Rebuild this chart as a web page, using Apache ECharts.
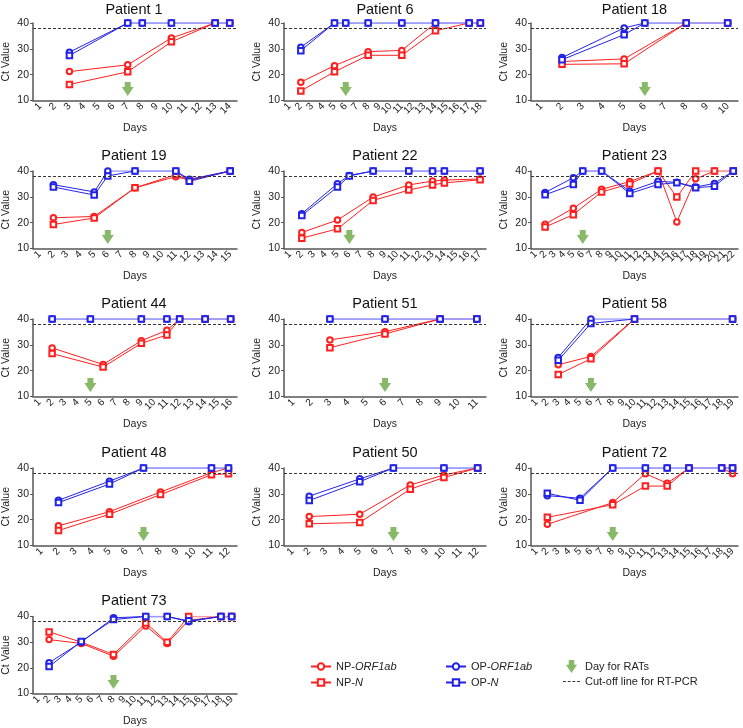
<!DOCTYPE html>
<html><head><meta charset="utf-8">
<script src="https://cdn.jsdelivr.net/npm/echarts@6/dist/echarts.min.js"></script>
<style>html,body{margin:0;padding:0;background:#fff}#c{width:743px;height:728px}</style>
</head><body><div id="c"></div>
<script>
const titles = ['Patient 1','Patient 6','Patient 18','Patient 19','Patient 22','Patient 23','Patient 44','Patient 51','Patient 58','Patient 48','Patient 50','Patient 72','Patient 73'];
const dayCounts = [14, 18, 10, 15, 17, 22, 16, 11, 19, 12, 12, 19, 19];
const ratDays = [7, 6, 6, 6, 6, 6, 5, 6, 6, 7, 7, 8, 8];
const cutoff = 38;

const npOrf1ab = [
  [[3,21.2],[7,23.8],[10,34.2],[13,40],[14,40]],
  [[2,17.1],[5,23.5],[8,28.9],[11,29.4],[14,40],[17,40],[18,40]],
  [[2,25.1],[5,26.1],[8,40],[10,40]],
  [[2,21.9],[5,22.4],[8,33.5],[11,37.8],[12,36.5],[15,40]],
  [[2,16.2],[5,21.0],[8,29.9],[11,34.6],[13,36.1],[14,36.5],[17,36.9]],
  [[2,19.4],[5,25.6],[8,32.9],[11,35.9],[14,40],[16,20.3],[18,37.0],[20,40],[22,40]],
  [[2,28.8],[6,22.4],[9,31.6],[11,35.6],[12,40],[14,40],[16,40]],
  [[3,31.9],[6,35.1],[9,40],[11,40]],
  [[3,22.3],[6,25.5],[10,40],[19,40]],
  [[2,17.6],[5,23.1],[8,30.7],[11,38.2],[12,40]],
  [[2,21.2],[5,22.1],[8,33.4],[10,37.3],[12,40]],
  [[2,18.2],[8,26.6],[11,37.8],[13,34.1],[15,40],[18,40],[19,37.8]],
  [[2,31],[5,29.5],[8,24.5],[11,36.3],[13,29.5],[15,38.5],[18,40],[19,40]]
];
const npN = [
  [[3,16.2],[7,21.1],[10,32.7],[13,40],[14,40]],
  [[2,13.7],[5,21.1],[8,27.5],[11,27.5],[14,37.0],[17,40],[18,40]],
  [[2,24.0],[5,24.2],[8,40],[10,40]],
  [[2,19.3],[5,21.8],[8,33.5],[11,38.6],[12,36.3],[15,40]],
  [[2,14.0],[5,17.6],[8,28.6],[11,32.6],[13,34.6],[14,35.4],[17,36.6]],
  [[2,18.3],[5,23.1],[8,31.9],[11,35.0],[14,40],[16,29.9],[18,40],[20,40],[22,40]],
  [[2,26.6],[6,21.4],[9,30.6],[11,33.8],[12,40],[14,40],[16,40]],
  [[3,28.9],[6,34.2],[9,40],[11,40]],
  [[3,18.5],[6,24.6],[10,40],[19,40]],
  [[2,15.8],[5,22.1],[8,29.7],[11,37.4],[12,37.8]],
  [[2,18.4],[5,18.9],[8,31.8],[10,36.3],[12,40]],
  [[2,20.9],[8,25.8],[11,33.0],[13,33.0],[15,40],[18,40],[19,40]],
  [[2,34],[5,30],[8,25.2],[11,37.5],[13,30],[15,40],[18,40],[19,40]]
];
const opOrf1ab = [
  [[3,28.7],[7,40],[8,40],[10,40],[13,40],[14,40]],
  [[2,30.6],[5,40],[6,40],[8,40],[11,40],[14,40],[17,40],[18,40]],
  [[2,26.6],[5,38.1],[6,40],[8,40],[10,40]],
  [[2,34.7],[5,31.9],[6,40],[8,40],[11,40],[12,36.8],[15,40]],
  [[2,23.5],[5,35.1],[6,38.3],[8,40],[11,40],[13,40],[14,40],[17,40]],
  [[2,31.7],[5,37.4],[6,40],[8,40],[11,32.2],[14,36.0],[16,35.6],[18,33.8],[20,35.2],[22,40]],
  [[2,40],[5,40],[9,40],[11,40],[12,40],[14,40],[16,40]],
  [[3,40],[6,40],[9,40],[11,40]],
  [[3,25.1],[6,40],[10,40],[19,40]],
  [[2,27.5],[5,34.9],[7,40],[11,40],[12,40]],
  [[2,29.1],[5,35.8],[7,40],[10,40],[12,40]],
  [[2,29.3],[5,28.3],[8,40],[11,40],[13,40],[15,40],[18,40],[19,40]],
  [[2,22],[5,30],[8,39.5],[11,40],[13,40],[15,38],[18,40],[19,40]]
];
const opN = [
  [[3,27.4],[7,40],[8,40],[10,40],[13,40],[14,40]],
  [[2,29.3],[5,40],[6,40],[8,40],[11,40],[14,40],[17,40],[18,40]],
  [[2,25.8],[5,35.5],[6,40],[8,40],[10,40]],
  [[2,33.8],[5,30.7],[6,38.1],[8,40],[11,40],[12,36.0],[15,40]],
  [[2,22.8],[5,33.8],[6,38.1],[8,40],[11,40],[13,40],[14,40],[17,40]],
  [[2,30.8],[5,34.8],[6,40],[8,40],[11,31.3],[14,34.8],[16,35.5],[18,33.5],[20,34.1],[22,40]],
  [[2,40],[5,40],[9,40],[11,40],[12,40],[14,40],[16,40]],
  [[3,40],[6,40],[9,40],[11,40]],
  [[3,24.0],[6,38.3],[10,40],[19,40]],
  [[2,26.6],[5,33.8],[7,40],[11,40],[12,40]],
  [[2,27.4],[5,34.7],[7,40],[10,40],[12,40]],
  [[2,30.2],[5,27.5],[8,40],[11,40],[13,40],[15,40],[18,40],[19,40]],
  [[2,20.5],[5,30.3],[8,38.8],[11,40],[13,40],[15,38.3],[18,40],[19,40]]
];

const FONT = 'Arial, "Liberation Sans", Helvetica, sans-serif';
const RED = '#ff1f1f', RED_L = '#ff9a9a', BLUE = '#2323e6', BLUE_L = '#9a9aff', GREEN = '#6aa843';
const ARROW = 'path://M3,0H9V5H12L6,14L0,5H3Z';
const DASH = 'path://M0,0h3v1h-3zM5,0h3v1h-3zM10,0h3v1h-3zM15,0h3v1h-3z';
const colLeft = [31, 284, 531], colWidth = [206, 202, 207];
const rowTop = [23, 171, 319, 468, 616.5], gridH = 77.5;
const titleTop = [2, 148, 296, 445, 593.5];
const axisColor = '#555';

const types = [
  {name:'NP-ORF1ab', arr:npOrf1ab, sym:'emptyCircle', color:RED, light:RED_L, z:3},
  {name:'NP-N', arr:npN, sym:'emptyRect', color:RED, light:RED_L, z:3},
  {name:'OP-ORF1ab', arr:opOrf1ab, sym:'emptyCircle', color:BLUE, light:BLUE_L, z:4},
  {name:'OP-N', arr:opN, sym:'emptyRect', color:BLUE, light:BLUE_L, z:4}
];

const grid=[], xAxis=[], yAxis=[], title=[], series=[];
titles.forEach((t, i) => {
  const r = Math.floor(i/3), c = i%3;
  grid.push({left:colLeft[c], top:rowTop[r], width:colWidth[c], height:gridH});
  const cats = Array.from({length:dayCounts[i]}, (_, k) => String(k+1));
  xAxis.push({gridIndex:i, type:'category', data:cats, boundaryGap:true,
    name:'Days', nameLocation:'middle', nameGap:22.5,
    nameTextStyle:{fontSize:10.5, color:'#222', fontFamily:FONT},
    axisLine:{lineStyle:{color:axisColor, width:1.5}},
    axisTick:{alignWithLabel:true, interval:0, length:3, lineStyle:{color:axisColor}},
    axisLabel:{interval:0, rotate:45, fontSize:10, color:'#222', margin:4, fontFamily:FONT},
    splitLine:{show:false}});
  yAxis.push({gridIndex:i, type:'value', min:10, max:40, interval:10,
    name:'Ct Value', nameLocation:'middle', nameGap:21,
    nameTextStyle:{fontSize:10.5, color:'#222', fontFamily:FONT},
    axisLine:{show:true, lineStyle:{color:axisColor, width:1.5}},
    axisTick:{show:true, length:3, lineStyle:{color:axisColor}},
    axisLabel:{fontSize:10.5, color:'#222', margin:4, fontFamily:FONT},
    splitLine:{show:false}});
  title.push({text:t, left:colLeft[c] + colWidth[c]/2, top:titleTop[r], textAlign:'center', padding:0,
    textStyle:{fontSize:14.5, fontWeight:'normal', color:'#111', fontFamily:FONT}});

  series.push({type:'line', name:'Cut-off line for RT-PCR', xAxisIndex:i, yAxisIndex:i, data:[], color:'#333',
    lineStyle:{type:[3,2], color:'#333', width:1}, symbol:'none', z:1, animation:false,
    markLine:{silent:true, symbol:'none', label:{show:false}, animation:false,
      lineStyle:{type:[3,2], color:'#333', width:1}, data:[{yAxis:cutoff}]}});

  types.forEach(tp => {
    const pts = tp.arr[i];
    const main = [], lite = [];
    pts.forEach((p, k) => {
      main.push([String(p[0]), p[1]]);
      if (k < pts.length-1 && p[1] === 40 && pts[k+1][1] === 40) main.push([String(p[0]), '-']);
      lite.push([String(p[0]), p[1] === 40 ? 40 : '-']);
    });
    series.push({type:'line', name:tp.name + ' (40)', xAxisIndex:i, yAxisIndex:i, data:lite,
      symbol:'none', lineStyle:{width:1.6, color:tp.light}, color:tp.light, z:tp.z-2, silent:true, animation:false});
    series.push({type:'line', name:tp.name, xAxisIndex:i, yAxisIndex:i, data:main,
      symbol:tp.sym, symbolSize:5.5, showSymbol:true, showAllSymbol:true, color:tp.color,
      lineStyle:{width:1, color:tp.color}, itemStyle:{color:tp.color, borderWidth:1},
      z:tp.z, animation:false});
  });

  series.push({type:'scatter', name:'Day for RATs', xAxisIndex:i, yAxisIndex:i,
    data:[[String(ratDays[i]), 14.5]], symbol:ARROW, symbolSize:[12,14],
    itemStyle:{color:GREEN}, z:5, silent:true, animation:false});
});

const legendText = {fontSize:11, color:'#222', fontFamily:FONT,
  rich:{n:{fontSize:11, color:'#222', fontFamily:FONT}, i:{fontSize:11, color:'#222', fontFamily:FONT, fontStyle:'italic'}}};
const legendFmt = n => { const m = n.match(/^(NP-|OP-)(.+)$/); return m ? '{n|' + m[1] + '}{i|' + m[2] + '}' : n; };
const legendBase = {orient:'vertical', itemWidth:20, itemHeight:8, itemGap:5, padding:0, textStyle:legendText, formatter:legendFmt, selectedMode:false};

const option = {
  backgroundColor:'#fff',
  animation:false,
  title, grid, xAxis, yAxis, series,
  legend:[
    Object.assign({}, legendBase, {left:310, top:661, data:['NP-ORF1ab','NP-N']}),
    Object.assign({}, legendBase, {left:445, top:661, data:['OP-ORF1ab','OP-N']}),
    Object.assign({}, legendBase, {left:563, top:660, itemWidth:17, itemHeight:13, itemGap:3,
      data:[{name:'Day for RATs', icon:ARROW}, {name:'Cut-off line for RT-PCR', icon:DASH, itemStyle:{color:'#333'}}]})
  ]
};
const chart = echarts.init(document.getElementById('c'), null, {renderer:'canvas'});
chart.setOption(option);
</script></body></html>
